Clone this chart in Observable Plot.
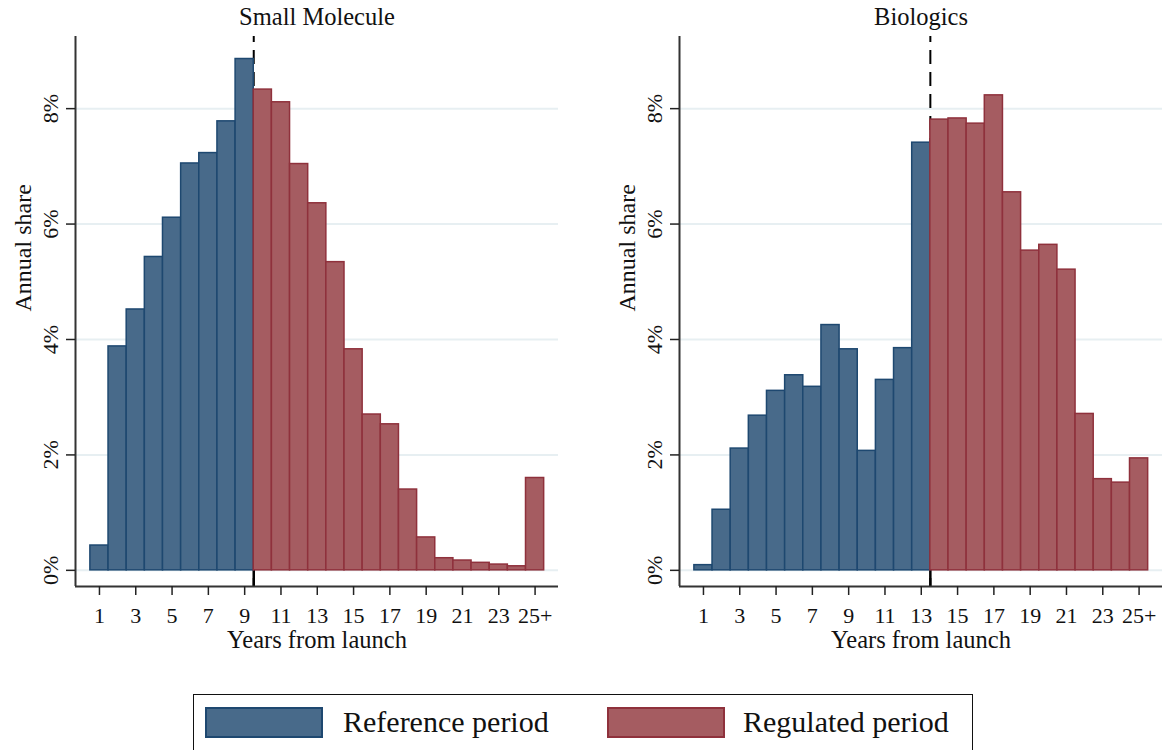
<!DOCTYPE html>
<html>
<head>
<meta charset="utf-8">
<script src="https://cdn.jsdelivr.net/npm/d3@7"></script>
<script src="https://cdn.jsdelivr.net/npm/@observablehq/plot@0.6"></script>
<style>
  body { margin: 0; background: #fff; font-family: "Liberation Serif", "DejaVu Serif", "Noto Serif", "Times New Roman", Tinos, serif; }
  #wrap { position: relative; width: 1164px; height: 750px; overflow: hidden; background: #fff; }
  #left { position: absolute; left: 0; top: 0; }
  #right { position: absolute; left: 604px; top: 0; }
  #legend { position: absolute; left: 193px; top: 694px; width: 780px; height: 90px;
            border: 1.5px solid #111; box-sizing: border-box; background: #fff; }
  .sw { position: absolute; top: 12px; width: 118px; height: 31px; box-sizing: border-box; border: 2px solid; }
  .lt { position: absolute; top: 9px; font-size: 30px; line-height: 36px; color: #111; white-space: nowrap; }
  svg text { font-family: "Liberation Serif", "DejaVu Serif", "Noto Serif", "Times New Roman", Tinos, serif; }
</style>
</head>
<body>
<div id="wrap">
  <div id="left"></div>
  <div id="right"></div>
  <div id="legend"></div>
</div>
<script>
// ---- data ----
const years = [1,2,3,4,5,6,7,8,9,10,11,12,13,14,15,16,17,18,19,20,21,22,23,24,25];
const smallMolecule = [0.43,3.88,4.52,5.43,6.11,7.05,7.23,7.78,8.86,8.33,8.11,7.04,6.36,5.34,3.83,2.70,2.53,1.40,0.57,0.21,0.17,0.13,0.10,0.07,1.60];
const biologics = [0.09,1.05,2.11,2.68,3.11,3.38,3.18,4.25,3.83,2.07,3.30,3.85,7.41,7.81,7.83,7.74,8.23,6.55,5.54,5.64,5.21,2.71,1.58,1.52,1.94];
const cutoffSmall = 9.5;     // boundary between reference and regulated period
const cutoffBio = 13.5;
const tickYears = [1,3,5,7,9,11,13,15,17,19,21,23,25];
const tickLabels = ["1","3","5","7","9","11","13","15","17","19","21","23","25+"];
const yTicks = [0,2,4,6,8];
const yTickLabels = ["0%","2%","4%","6%","8%"];
const periods = ["Reference period","Regulated period"];
const panelTitles = ["Small Molecule","Biologics"];
const xTitle = "Years from launch";
const yTitle = "Annual share";

// ---- styles ----
const fills = ["#486a8a", "#a55c61"];
const strokes = ["#1e4870", "#8f313c"];
const xDomain = [-0.32, 26.29];
const yDomain = [-0.28, 9.25];
const font = "'Liberation Serif', 'DejaVu Serif', 'Noto Serif', 'Times New Roman', serif";

function panel(title, values, cutoff, width, marginRight) {
  const data = years.map((yr, i) => ({year: yr, share: values[i], period: yr < cutoff ? periods[0] : periods[1]}));
  const ref = data.filter(d => d.period === periods[0]);
  const reg = data.filter(d => d.period === periods[1]);
  return Plot.plot({
    width, height: 660,
    marginLeft: 75, marginRight, marginTop: 36, marginBottom: 74,
    style: {fontFamily: font, fontSize: "22px", color: "#111", background: "white", overflow: "visible"},
    x: {domain: xDomain},
    y: {domain: yDomain},
    marks: [
      Plot.gridY(yTicks, {stroke: "#e7eff2", strokeOpacity: 1, strokeWidth: 2}),
      Plot.ruleX([cutoff], {stroke: "#000", strokeWidth: 2, strokeDasharray: "14,8", strokeDashoffset: 8}),
      Plot.ruleX([cutoff], {y1: yDomain[0], y2: 0, stroke: "#000", strokeWidth: 2.5}),
      Plot.rectY(ref, {x1: d => d.year - 0.5, x2: d => d.year + 0.5, y1: 0, y2: "share",
                       fill: fills[0], stroke: strokes[0], strokeWidth: 1.5}),
      Plot.rectY(reg, {x1: d => d.year - 0.5, x2: d => d.year + 0.5, y1: 0, y2: "share",
                       fill: fills[1], stroke: strokes[1], strokeWidth: 1.5}),
      Plot.ruleX([xDomain[0]], {stroke: "#333", strokeWidth: 2}),
      Plot.ruleY([yDomain[0]], {stroke: "#333", strokeWidth: 2}),
      Plot.axisY({ticks: yTicks, tickFormat: d => yTickLabels[yTicks.indexOf(d)], tickRotate: -90,
                  tickSize: 9, tickPadding: 9, label: null, stroke: "#222", strokeWidth: 1.5}),
      Plot.axisX({ticks: tickYears, tickFormat: d => tickLabels[tickYears.indexOf(d)],
                  tickSize: 9, tickPadding: 12, label: null, stroke: "#222", strokeWidth: 1.5}),
      Plot.text([title], {frameAnchor: "top", dy: -19, lineAnchor: "middle", fontSize: 24.5, fill: "#111"}),
      Plot.text([xTitle], {frameAnchor: "bottom", dy: 54, lineAnchor: "middle", fontSize: 24.5, fill: "#111"}),
      Plot.text([yTitle], {frameAnchor: "left", dx: -52, rotate: -90, lineAnchor: "middle", fontSize: 24, fill: "#111"})
    ]
  });
}

document.getElementById("left").appendChild(panel(panelTitles[0], smallMolecule, cutoffSmall, 582, 24));
document.getElementById("right").appendChild(panel(panelTitles[1], biologics, cutoffBio, 560, 2));

// legend
const legend = document.getElementById("legend");
const swLeft = [11, 413];
const txLeft = [149, 549];
periods.forEach((p, i) => {
  const sw = document.createElement("div");
  sw.className = "sw";
  sw.style.left = swLeft[i] + "px";
  sw.style.background = fills[i];
  sw.style.borderColor = strokes[i];
  legend.appendChild(sw);
  const t = document.createElement("div");
  t.className = "lt";
  t.style.left = txLeft[i] + "px";
  t.textContent = p;
  legend.appendChild(t);
});
</script>
</body>
</html>
